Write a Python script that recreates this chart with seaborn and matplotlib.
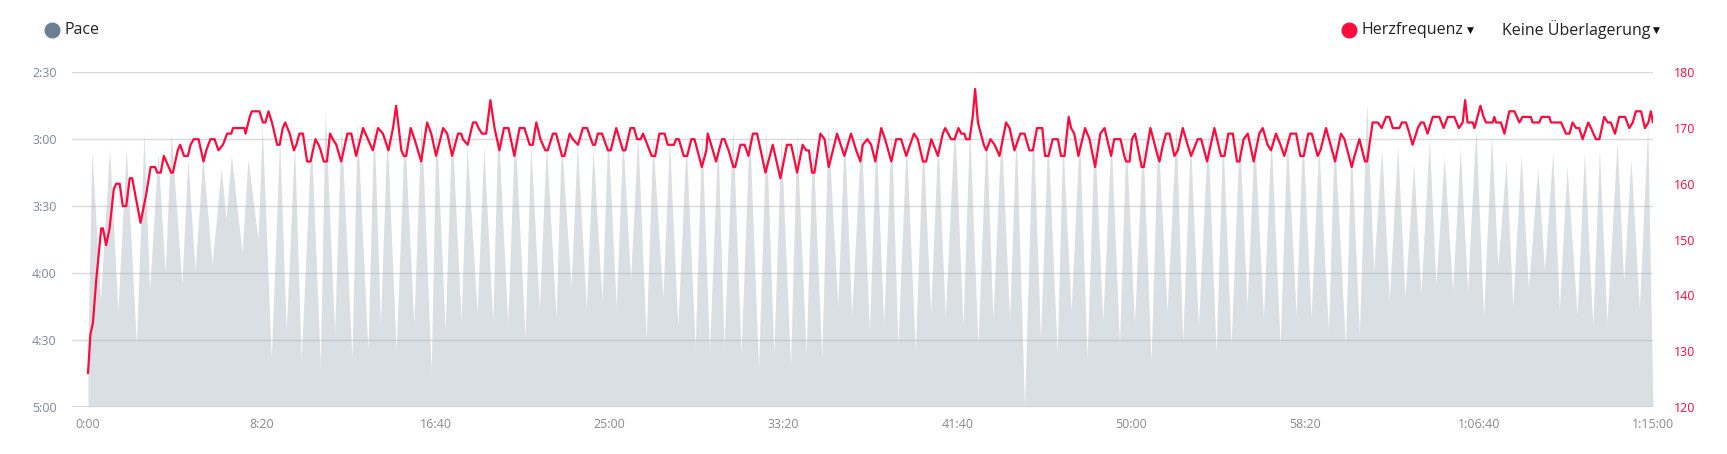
import numpy as np
import pandas as pd
import matplotlib
matplotlib.use("Agg")
import matplotlib.pyplot as plt
import seaborn as sns
from matplotlib.lines import Line2D

# pace (seconds per km) at the peaks / troughs of each stroke cycle
pace_time = [0, 11, 36, 62, 86, 110, 139, 161, 177, 201, 222, 239, 270, 287, 308, 330, 357, 383, 397, 412,
             443, 460, 489, 501, 527, 551, 570, 594, 613, 642, 668, 682, 709, 728, 759, 774, 805, 822, 841, 860,
             886, 910, 937, 958, 987, 1001, 1027, 1046, 1073, 1090, 1119, 1138, 1164, 1179, 1207, 1227, 1257, 1273, 1298, 1318,
             1346, 1361, 1389, 1407, 1433, 1452, 1478, 1495, 1519, 1538, 1560, 1581, 1605, 1624, 1653, 1672, 1696, 1720, 1746, 1765,
             1787, 1811, 1829, 1854, 1878, 1902, 1928, 1950, 1972, 1993, 2020, 2038, 2065, 2084, 2110, 2128, 2156, 2175, 2196, 2223,
             2247, 2266, 2288, 2310, 2329, 2353, 2379, 2401, 2423, 2444, 2465, 2492, 2516, 2535, 2559, 2583, 2602, 2626, 2650, 2669,
             2693, 2717, 2739, 2760, 2787, 2803, 2827, 2851, 2873, 2894, 2918, 2942, 2966, 2985, 3009, 3033, 3057, 3076, 3103, 3129,
             3148, 3170, 3193, 3220, 3244, 3263, 3287, 3311, 3333, 3354, 3380, 3402, 3428, 3448, 3474, 3493, 3517, 3539, 3567, 3584,
             3616, 3632, 3656, 3677, 3697, 3720, 3742, 3766, 3787, 3812, 3833, 3857, 3876, 3900, 3924, 3946, 3967, 3991, 4013, 4036,
             4054, 4078, 4097, 4121, 4142, 4169, 4188, 4212, 4231, 4253, 4282, 4303, 4327, 4346, 4368, 4397, 4416, 4437, 4461, 4485,
             4500]
pace_sec = [270, 185, 252, 184, 257, 184, 272, 177, 248, 186, 240, 177, 245, 189, 239, 188, 236, 193, 216, 187,
            231, 189, 225, 174, 278, 180, 266, 182, 279, 179, 281, 167, 267, 174, 278, 172, 275, 171, 263, 177,
            275, 176, 263, 170, 284, 171, 266, 174, 261, 183, 258, 183, 262, 173, 263, 175, 269, 182, 256, 182,
            260, 180, 246, 182, 256, 184, 252, 177, 255, 179, 243, 178, 270, 180, 251, 181, 264, 182, 273, 177,
            275, 180, 273, 174, 276, 174, 283, 176, 276, 179, 282, 178, 276, 180, 278, 174, 255, 177, 259, 177,
            266, 178, 263, 175, 272, 181, 275, 180, 258, 179, 260, 171, 264, 174, 272, 175, 261, 176, 261, 176,
            300, 171, 269, 178, 276, 180, 257, 177, 278, 176, 262, 179, 272, 178, 263, 180, 280, 177, 257, 174,
            271, 180, 264, 177, 276, 178, 272, 177, 255, 178, 260, 179, 272, 178, 259, 177, 260, 182, 266, 178,
            273, 182, 267, 163, 239, 184, 252, 183, 251, 191, 249, 180, 245, 188, 248, 184, 248, 175, 260, 178,
            237, 190, 255, 187, 247, 193, 239, 186, 256, 192, 259, 186, 264, 185, 262, 181, 244, 189, 256, 174,
            300]

# heart rate (bpm)
hr_time = [0, 7, 14, 24, 38, 43, 52, 62, 74, 81, 91, 100, 110, 120, 127, 151, 167, 180, 193, 199,
           209, 218, 225, 239, 244, 258, 265, 276, 287, 295, 304, 318, 332, 340, 352, 364, 375, 388, 400, 412,
           417, 450, 453, 465, 471, 493, 503, 510, 519, 529, 544, 551, 560, 567, 580, 592, 599, 608, 618, 630,
           640, 654, 663, 669, 678, 687, 696, 704, 714,
           728, 746, 757, 771, 791, 805, 819, 834, 848, 864, 877, 886, 901, 908, 915, 928, 939, 958, 975, 987,
           1001, 1021, 1033, 1047, 1064, 1073, 1078, 1092, 1107, 1116, 1123, 1133, 1145, 1157, 1169, 1183, 1196, 1209, 1226, 1241,
           1255, 1270, 1279, 1289, 1301, 1315, 1322, 1337, 1346, 1363, 1370, 1385, 1394, 1409, 1423, 1435, 1452, 1458,
           1466, 1478, 1495, 1503, 1519, 1538, 1545, 1560, 1570, 1579, 1589, 1596, 1621, 1631, 1643, 1658, 1667, 1685, 1691, 1699,
           1713, 1723, 1735, 1744, 1765, 1778, 1782, 1792, 1806, 1823, 1830, 1842, 1856, 1861, 1876, 1888, 1899, 1912, 1924, 1948,
           1969, 1991, 2010, 2022, 2039, 2055, 2065, 2073, 2082, 2089, 2106, 2118, 2130, 2154, 2175, 2194, 2209,
           2221, 2228, 2241, 2252, 2264, 2281, 2292, 2310, 2324, 2338, 2353, 2375, 2386, 2401, 2410, 2425, 2444, 2458, 2465, 2482,
           2492, 2503, 2511, 2520, 2525, 2535, 2544, 2551, 2559, 2576, 2583, 2595, 2607, 2621, 2640, 2650, 2664, 2681, 2693, 2707,
           2717, 2729, 2744, 2752, 2762, 2774, 2789, 2798, 2808, 2820, 2827, 2836, 2848, 2867, 2880, 2896, 2911, 2923, 2942, 2951,
           2961, 2969, 2980, 2985, 2995, 3002, 3011, 3030, 3036, 3055, 3076, 3081, 3091, 3100, 3110, 3124, 3134, 3148, 3162, 3172,
           3191, 3201, 3218, 3239, 3258, 3268, 3279, 3292, 3304, 3311, 3323, 3335, 3352, 3368, 3378, 3392, 3402, 3416, 3429, 3440,
           3458, 3474, 3486, 3496, 3509, 3519, 3536, 3544, 3560, 3573, 3586, 3603, 3613, 3634, 3642, 3656, 3672, 3678, 3694,
           3709, 3720, 3733, 3742, 3752, 3771, 3778, 3790, 3800, 3809, 3824, 3833, 3841, 3852, 3867, 3886, 3898, 3910, 3929, 3942,
           3953, 3960, 3967, 3982, 3987, 4004, 4013, 4020, 4039, 4044, 4049, 4063, 4073, 4087, 4102, 4116, 4125, 4149, 4154, 4173,
           4180, 4202, 4207, 4236, 4250, 4260, 4269, 4279, 4288, 4298, 4314, 4322, 4336, 4346, 4360, 4370, 4379, 4391, 4403, 4420,
           4432, 4442, 4451, 4466, 4477, 4487, 4494, 4500]
hr_bpm = [126, 133, 135, 143, 152, 152, 149, 152, 159, 160, 160, 156, 156, 161, 161, 153, 158, 163, 163, 162,
          162, 165, 164, 162, 162, 166, 167, 165, 165, 167, 168, 168, 164, 166, 168, 168, 166, 167, 169, 169,
          170, 170, 169, 172, 173, 173, 171, 171, 173, 171, 167, 167, 170, 171, 169, 166, 167, 169, 169, 164,
          164, 168, 167, 166, 164, 164, 169, 168, 167,
          164, 169, 169, 165, 170, 168, 166, 170, 169, 166, 170, 174, 166, 165, 165, 170, 168, 164, 171, 169,
          165, 170, 169, 165, 169, 169, 168, 167, 171, 171, 170, 169, 169, 175, 170, 166, 170, 170, 165, 170,
          170, 167, 167, 171, 168, 166, 166, 169, 169, 165, 165, 169, 168, 167, 170, 170, 167, 167,
          169, 169, 166, 166, 170, 166, 166, 170, 170, 168, 168, 169, 165, 165, 169, 169, 167, 167, 168, 168,
          165, 165, 168, 168, 163, 166, 169, 167, 164, 168, 168, 166, 163, 163, 167, 167, 165, 169, 169, 162,
          167, 161, 167, 167, 162, 167, 166, 166, 162, 162, 169, 168, 163, 169, 165, 169, 166,
          164, 167, 168, 167, 164, 170, 168, 164, 168, 168, 165, 169, 168, 164, 164, 168, 165, 169, 170, 168,
          168, 170, 169, 169, 168, 168, 172, 177, 171, 167, 166, 168, 167, 165, 171, 170, 166, 169, 169, 166,
          166, 170, 170, 165, 165, 168, 168, 165, 165, 172, 170, 169, 165, 170, 168, 163, 169, 170, 165, 168,
          168, 168, 165, 164, 164, 168, 169, 163, 163, 170, 165, 164, 167, 169, 169, 165, 166, 170, 167, 165,
          168, 168, 164, 170, 165, 165, 169, 169, 164, 164, 168, 169, 164, 169, 170, 167, 166, 169, 167, 165,
          169, 169, 165, 165, 169, 169, 165, 166, 170, 167, 164, 169, 168, 163, 165, 168, 164, 164, 171,
          171, 170, 172, 172, 170, 170, 171, 171, 169, 167, 170, 171, 171, 169, 172, 172, 170, 172, 172, 170,
          171, 175, 171, 171, 170, 174, 172, 171, 171, 172, 171, 171, 169, 173, 173, 171, 172, 172, 171, 171,
          172, 172, 171, 171, 169, 169, 171, 170, 170, 168, 171, 170, 168, 168, 172, 171, 171, 169, 172, 172,
          170, 171, 173, 173, 170, 171, 173, 171]

pace_ticks = [150, 180, 210, 240, 270, 300]
pace_labels = ["2:30", "3:00", "3:30", "4:00", "4:30", "5:00"]
hr_ticks = [120, 130, 140, 150, 160, 170, 180]
x_ticks = [0, 500, 1000, 1500, 2000, 2500, 3000, 3500, 4000, 4500]
x_labels = ["0:00", "8:20", "16:40", "25:00", "33:20", "41:40", "50:00", "58:20", "1:06:40", "1:15:00"]

pace_df = pd.DataFrame({"t": pace_time, "pace": pace_sec})
hr_df = pd.DataFrame({"t": hr_time, "hr": hr_bpm})

sns.set_theme(style="white")
plt.rcParams["font.family"] = ["Open Sans", "DejaVu Sans"]

fig = plt.figure(figsize=(17.27, 4.54), dpi=100)
ax = fig.add_axes([0.0417, 0.1042, 0.9154, 0.7365])

# pace area
ax.fill_between(pace_df["t"], pace_df["pace"], 300, color="#dadfe3", lw=0, zorder=1)
ax.set_ylim(300, 150)
ax.set_xlim(-46, 4500)
ax.set_yticks(pace_ticks)
ax.set_yticklabels(pace_labels)
ax.set_xticks(x_ticks)
ax.set_xticklabels(x_labels)
ax.tick_params(axis="y", length=0, pad=11, labelsize=9, labelcolor="#7a8998")
ax.tick_params(axis="x", length=0, pad=8, labelsize=9, labelcolor="#8a8a8a")
ax.set_axisbelow(False)
ax.yaxis.grid(True, color="#a9b0b7", lw=1, alpha=0.45, zorder=2)
ax.xaxis.grid(False)
for s in ax.spines.values():
    s.set_visible(False)
ax.axhline(300, color="#c9d3dd", lw=1.2, zorder=3)

# heart rate line
ax2 = ax.twinx()
sns.lineplot(data=hr_df, x="t", y="hr", ax=ax2, color="#ff0a3c", lw=1.6)
ax2.set_ylim(120, 180)
ax2.set_yticks(hr_ticks)
ax2.tick_params(axis="y", length=0, pad=15, labelsize=9, labelcolor="#ff0a3c")
ax2.set_xlim(-46, 4500)
ax2.set_xlabel("")
ax2.set_ylabel("")
ax2.grid(False)
for s in ax2.spines.values():
    s.set_visible(False)

# legend / header
hy = 0.935
fig.add_artist(Line2D([0.0301], [hy], marker="o", markersize=10.5, color="#6c7f92",
                      lw=0, transform=fig.transFigure))
fig.text(0.0371, hy, "Pace", fontsize=11.5, color="#222222", va="center", ha="left")
fig.add_artist(Line2D([0.7811], [hy], marker="o", markersize=10.5, color="#ff0a3c",
                      lw=0, transform=fig.transFigure))
fig.text(0.7886, hy, "Herzfrequenz", fontsize=11.5, color="#222222", va="center", ha="left")
fig.text(0.8497, hy - 0.001, "\u25bc", fontsize=6.5, color="#111111", va="center", ha="left",
         family="DejaVu Sans")
fig.text(0.8697, hy, "Keine Überlagerung", fontsize=11.5, color="#222222", va="center", ha="left")
fig.text(0.9569, hy - 0.001, "\u25bc", fontsize=6.5, color="#111111", va="center", ha="left",
         family="DejaVu Sans")

fig.savefig("out.png", dpi=100)
